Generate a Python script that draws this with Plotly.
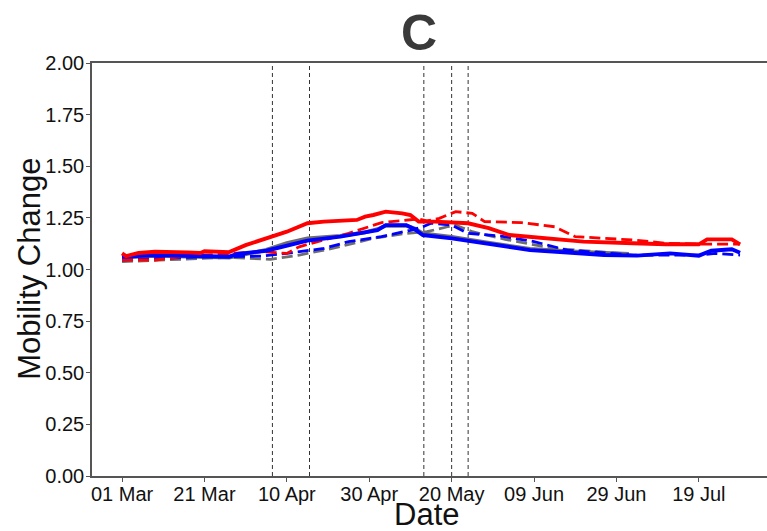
import plotly.graph_objects as go

# ---- data ----
red_solid_dates = ["2020-03-01","2020-03-02","2020-03-05","2020-03-09","2020-03-17","2020-03-20","2020-03-21","2020-03-27",
                   "2020-03-31","2020-04-05","2020-04-10","2020-04-15","2020-04-19","2020-04-27","2020-04-29","2020-05-01",
                   "2020-05-04","2020-05-08","2020-05-10","2020-05-12","2020-05-16","2020-05-24","2020-05-29","2020-06-03",
                   "2020-06-10","2020-06-21","2020-07-03","2020-07-11","2020-07-19","2020-07-21","2020-07-27","2020-07-29"]
red_solid = [1.078,1.065,1.080,1.086,1.083,1.080,1.088,1.084,
             1.118,1.150,1.183,1.224,1.232,1.240,1.256,1.264,
             1.280,1.272,1.264,1.232,1.232,1.224,1.200,1.167,
             1.156,1.135,1.127,1.122,1.122,1.146,1.146,1.122]

red_dash_dates = ["2020-03-01","2020-03-09","2020-03-17","2020-03-27","2020-04-04","2020-04-10","2020-04-13","2020-04-19",
                  "2020-04-25","2020-05-03","2020-05-10","2020-05-12","2020-05-14","2020-05-17","2020-05-21","2020-05-25",
                  "2020-05-28","2020-06-06","2020-06-14","2020-06-19","2020-07-03","2020-07-11","2020-07-19","2020-07-29"]
red_dash = [1.046,1.046,1.065,1.078,1.086,1.078,1.110,1.143,
            1.175,1.227,1.240,1.245,1.235,1.248,1.280,1.272,
            1.232,1.227,1.207,1.159,1.143,1.127,1.123,1.123]

blue_solid_dates = ["2020-03-01","2020-03-09","2020-03-27","2020-03-29","2020-04-05","2020-04-10","2020-04-15","2020-04-23",
                    "2020-04-29","2020-05-02","2020-05-04","2020-05-09","2020-05-11","2020-05-13","2020-05-20","2020-05-28",
                    "2020-06-08","2020-06-18","2020-06-26","2020-07-04","2020-07-12","2020-07-19","2020-07-22","2020-07-27","2020-07-29"]
blue_solid = [1.062,1.070,1.062,1.075,1.091,1.114,1.140,1.159,
              1.178,1.191,1.215,1.215,1.195,1.167,1.151,1.127,
              1.094,1.081,1.070,1.067,1.078,1.067,1.091,1.098,1.081]

blue_dash_dates = ["2020-03-01","2020-03-17","2020-04-04","2020-04-10","2020-04-19","2020-04-25","2020-05-03","2020-05-10",
                   "2020-05-13","2020-05-15","2020-05-20","2020-05-24","2020-06-01","2020-06-09","2020-06-17","2020-06-25",
                   "2020-07-03","2020-07-19","2020-07-23","2020-07-29"]
blue_dash = [1.046,1.059,1.065,1.078,1.102,1.135,1.159,1.190,
             1.207,1.224,1.215,1.175,1.162,1.135,1.094,1.081,
             1.070,1.070,1.078,1.070]

gray_solid_dates = ["2020-03-01","2020-03-09","2020-03-27","2020-04-05","2020-04-10","2020-04-15","2020-04-23","2020-04-29",
                    "2020-05-02","2020-05-04","2020-05-09","2020-05-11","2020-05-13","2020-05-20","2020-05-28","2020-06-08",
                    "2020-06-18","2020-06-26","2020-07-02"]
gray_solid = [1.058,1.066,1.058,1.095,1.128,1.150,1.163,1.180,
              1.195,1.212,1.212,1.198,1.175,1.158,1.132,1.100,
              1.088,1.078,1.075]

gray_dash_dates = ["2020-03-01","2020-03-17","2020-03-27","2020-04-06","2020-04-13","2020-04-21","2020-05-01","2020-05-09",
                   "2020-05-14","2020-05-19","2020-05-21","2020-05-25","2020-06-02","2020-06-14","2020-06-26","2020-07-02"]
gray_dash = [1.038,1.049,1.059,1.049,1.070,1.102,1.151,1.175,
             1.183,1.207,1.215,1.183,1.146,1.102,1.086,1.075]

event_dates = ["2020-04-06 12:00","2020-04-15 12:00","2020-05-13 06:00","2020-05-20","2020-05-24"]

tick_dates = ["2020-03-01","2020-03-21","2020-04-10","2020-04-30","2020-05-20","2020-06-09","2020-06-29","2020-07-19"]
tick_labels = ["01 Mar","21 Mar","10 Apr","30 Apr","20 May","09 Jun","29 Jun","19 Jul"]
y_ticks = [0, 0.25, 0.5, 0.75, 1.0, 1.25, 1.5, 1.75, 2.0]

RED = "#ff0000"
BLUE = "#0000ff"
GRAY = "#6e6e6e"

fig = go.Figure()
series = [
    (gray_dash_dates, gray_dash, GRAY, "dash", 2.8),
    (gray_solid_dates, gray_solid, GRAY, "solid", 3.9),
    (blue_dash_dates, blue_dash, BLUE, "dash", 2.8),
    (red_dash_dates, red_dash, RED, "dash", 2.8),
    (blue_solid_dates, blue_solid, BLUE, "solid", 3.9),
    (red_solid_dates, red_solid, RED, "solid", 3.9),
]
for xs, ys, col, dash, w in series:
    fig.add_trace(go.Scatter(x=xs, y=ys, mode="lines",
                             line=dict(color=col, width=w, dash="solid" if dash == "solid" else "11px,5px"),
                             showlegend=False, hoverinfo="skip"))

for d in event_dates:
    fig.add_shape(type="line", xref="x", yref="paper", x0=d, x1=d, y0=0, y1=1,
                  line=dict(color="#333333", width=1, dash="4px,3px"), layer="below")

FONT = "Liberation Sans, Arial, sans-serif"
TXT = "#111111"

# axis titles as annotations for exact placement
fig.add_annotation(text="Mobility Change", xref="paper", yref="paper", x=-0.0937, y=0.501,
                   xanchor="center", yanchor="middle", textangle=-90, showarrow=False,
                   font=dict(family=FONT, size=31, color=TXT))
fig.add_annotation(text="Date", xref="paper", yref="paper", x=0.496, y=-0.0944,
                   xanchor="center", yanchor="middle", showarrow=False,
                   font=dict(family=FONT, size=31, color=TXT))

fig.update_layout(
    width=767, height=531,
    margin=dict(l=92, r=0, t=63, b=55, autoexpand=False),
    paper_bgcolor="white", plot_bgcolor="white",
    font=dict(family=FONT, color=TXT),
    title=dict(text="<b>C</b>", x=0.4844, xref="paper", xanchor="center",
               y=0.939, yref="container", yanchor="middle",
               font=dict(family=FONT, size=50, color="#3a3a3a")),
    xaxis=dict(type="date", range=["2020-02-22 17:00", "2020-08-04 13:00"],
               tickvals=tick_dates, ticktext=tick_labels, automargin=False,
               showgrid=False, zeroline=False,
               showline=True, linecolor="#555555", linewidth=1.5, mirror=True,
               ticks="outside", ticklen=4, tickcolor="#555555",
               ticklabelstandoff=-5,
               tickfont=dict(size=20, color=TXT)),
    yaxis=dict(range=[0, 2], tickvals=y_ticks, tickformat=".2f", automargin=False,
               showgrid=False, zeroline=False,
               showline=True, linecolor="#555555", linewidth=1.5, mirror=False,
               ticks="outside", ticklen=4, tickcolor="#555555",
               ticklabelstandoff=-2,
               tickfont=dict(size=20, color=TXT)),
)

fig.write_html("out.html", config={"displayModeBar": False},
               post_script="document.body.style.margin='0px';")
